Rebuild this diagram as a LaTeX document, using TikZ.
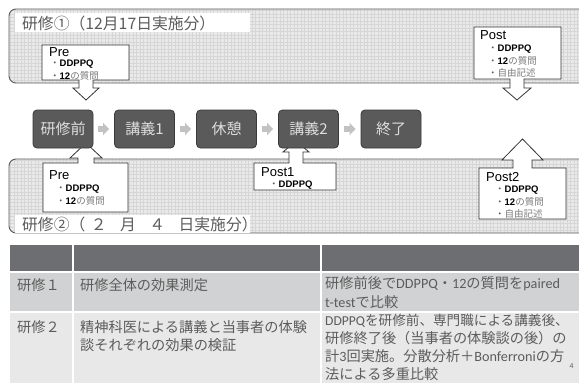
\documentclass[tikz,border=0pt]{standalone}
\usepackage{fontspec}
\setmainfont{Liberation Sans}
\newfontfamily\jp{Noto Sans CJK JP}
\newfontfamily\cfont{Carlito}
\usetikzlibrary{arrows.meta,calc}
\definecolor{panelfill}{HTML}{EAEAEA}
\definecolor{gridc}{HTML}{D6D6D6}
\definecolor{panelline}{HTML}{5A5A5A}
\definecolor{boxfill}{HTML}{5A5A5A}
\definecolor{boxline}{HTML}{3A3A3A}
\definecolor{flowtext}{HTML}{DEDEDE}
\definecolor{flowarrow}{HTML}{C2C2C2}
\definecolor{txtgray}{HTML}{5C5C5C}
\definecolor{cjkgray}{HTML}{7A7A7A}
\definecolor{calloutline}{HTML}{333333}
\definecolor{hdr}{HTML}{6D6E71}
\definecolor{rowa}{HTML}{D1D2D3}
\definecolor{rowb}{HTML}{E8E8E9}
\newcommand{\bl}{{\jp\mdseries\color{txtgray}・}}
\newcommand{\cg}[1]{{\jp\mdseries\color{cjkgray}#1}}
\newcommand{\gridpanel}[2]{%
  \begin{scope}
    \clip[rounded corners=7pt] (9,#1) rectangle (640,#2);
    \fill[panelfill] (9,#1) rectangle (640,#2);
    \foreach \gx in {10.5,14,...,579} \draw[gridline] (\gx,#1) -- (\gx,#2);
    \pgfmathsetmacro{\ga}{#1+1.5}\pgfmathsetmacro{\gb}{#1+5}
    \foreach \gy in {\ga,\gb,...,#2} \draw[gridline] (9,\gy) -- (640,\gy);
  \end{scope}
  \draw[panelborder] (9,#1) rectangle (640,#2);}
\begin{document}
\begin{tikzpicture}[x=1pt,y=-1pt,
  panelborder/.style={draw=panelline, line width=0.9pt, rounded corners=7pt},
  gridline/.style={draw=gridc, line width=0.45pt},
  titlebox/.style={fill=white},
  titletext/.style={anchor=base west, inner sep=0pt, text=txtgray, font=\jp\fontsize{15.8}{18}\selectfont},
  callout/.style={draw=calloutline, line width=0.8pt, fill=white, line join=miter},
  flowbox/.style={draw=boxline, line width=0.8pt, fill=boxfill, rounded corners=4pt, minimum width=60pt, minimum height=38pt, inner sep=0pt, text=flowtext, font=\jp\fontsize{15}{18}\selectfont},
  flowarr/.style={draw=flowarrow, line width=6pt, -{Triangle[length=6pt,width=12pt]}},
  ctitle/.style={anchor=west, inner sep=0pt, text=black, font=\fontsize{13}{15}\selectfont},
  cbul/.style={anchor=west, inner sep=0pt, text=black, font=\fontsize{9.5}{11}\selectfont\bfseries},
  ttext/.style={anchor=base west, inner sep=0pt, text=txtgray, font=\jp\fontsize{14.2}{18}\selectfont},
  ttextc/.style={anchor=base west, inner sep=0pt, text=txtgray, font=\jp\fontsize{14.2}{18}\selectfont},
  tline/.style={draw=white, line width=1.5pt}
]
\useasboundingbox (0,0) rectangle (579,383);
\fill[white] (0,0) rectangle (579,383);

% panels
\gridpanel{9}{83}
\gridpanel{159}{233}

% titles
\fill[titlebox] (15,13) rectangle (250,32);
\node[titletext] (t1) at (22,29) {研修①（12月17日実施分）};
\fill[titlebox] (15,215) rectangle (250,233);
\node[titletext] (t2) at (22,230) {研修②（\hspace{0.35em}２\hspace{0.85em}月\hspace{0.85em}４\hspace{0.85em}日実施分）};

% callouts (top)
\coordinate (tipA) at (86,100);
\draw[callout] (42,45) -- (129,45) -- (129,80) -- (93,80) -- (93,88) -- (99,88) -- (tipA) -- (73,88) -- (79,88) -- (79,80) -- (42,80) -- cycle;
\node[ctitle] (preA) at (49,52) {Pre};
\node[cbul] (preA1) at (50,64.5) {\bl DDPPQ};
\node[cbul] (preA2) at (50,75.5) {\bl 12\cg{の質問}};

\coordinate (tipB) at (517,100);
\draw[callout] (474,27) -- (561,27) -- (561,79) -- (524,79) -- (524,88) -- (531,88) -- (tipB) -- (503,88) -- (510,88) -- (510,79) -- (474,79) -- cycle;
\node[ctitle] (postB) at (480,35) {Post};
\node[cbul] (postB1) at (488,49) {\bl DDPPQ};
\node[cbul] (postB2) at (488,61) {\bl 12\cg{の質問}};
\node[cbul] (postB3) at (488,72.5) {\bl\cg{自由記述}};

% callouts (bottom)
\coordinate (tipC) at (86,143);
\draw[callout] (43,163) -- (78,163) -- (78,158) -- (70,158) -- (tipC) -- (102,158) -- (94,158) -- (94,163) -- (128,163) -- (128,212) -- (43,212) -- cycle;
\node[ctitle] (preC) at (49,175.5) {Pre};
\node[cbul] (preC1) at (56,189) {\bl DDPPQ};
\node[cbul] (preC2) at (56,200.5) {\bl 12\cg{の質問}};

\coordinate (tipD) at (296,141);
\draw[callout] (254,163) -- (289,163) -- (289,152) -- (283,152) -- (tipD) -- (309,152) -- (303,152) -- (303,163) -- (336,163) -- (336,190) -- (254,190) -- cycle;
\node[ctitle] (postD) at (261,172) {Post1};
\node[cbul] (postD1) at (269,185) {\bl DDPPQ};

\coordinate (tipE) at (522.5,139);
\draw[callout] (479,168) -- (513,168) -- (513,160) -- (502,160) -- (tipE) -- (543,160) -- (532,160) -- (532,168) -- (566,168) -- (566,219) -- (479,219) -- cycle;
\node[ctitle] (postE) at (486,177.5) {Post2};
\node[cbul] (postE1) at (495,190.5) {\bl DDPPQ};
\node[cbul] (postE2) at (495,202) {\bl 12\cg{の質問}};
\node[cbul] (postE3) at (495,213.5) {\bl\cg{自由記述}};

% flow
\node[flowbox] (f1) at (63,129) {研修前};
\node[flowbox] (f2) at (144.5,129) {講義1};
\node[flowbox] (f3) at (226.5,129) {休憩};
\node[flowbox] (f4) at (308.5,129) {講義2};
\node[flowbox] (f5) at (391,129) {終了};
\foreach \a/\b in {f1/f2,f2/f3,f3/f4,f4/f5}
  \draw[flowarr] ($(\a.east)+(5,0)$) -- ($(\b.west)+(-5,0)$);

% table
\fill[hdr] (10,245) rectangle (579,272);
\fill[rowa] (10,272) rectangle (579,312);
\fill[rowb] (10,312) rectangle (579,383);
\draw[tline] (10,272) -- (579,272);
\draw[tline] (10,312) -- (579,312);
\draw[tline] (73,245) -- (73,383);
\draw[tline] (321,245) -- (321,383);

\node[ttext] (r1c1) at (17,290.5) {研修１};
\node[ttext] (r1c2) at (80,290.5) {研修全体の効果測定};
\node[ttextc] (r1c3a) at (325,288.5) {研修前後で{\cfont DDPPQ}・{\cfont 12}の質問を{\cfont paired}};
\node[ttextc] (r1c3b) at (325,307.5) {{\cfont t-test}で比較};

\node[ttext] (r2c1) at (17,332.5) {研修２};
\node[ttext] (r2c2a) at (80,332.5) {精神科医による講義と当事者の体験};
\node[ttext] (r2c2b) at (80,350.5) {談それぞれの効果の検証};
\node[ttextc, font=\jp\fontsize{13.6}{18}\selectfont] (r2c3a) at (325,325) {{\cfont DDPPQ}を研修前、専門職による講義後、};
\node[ttextc] (r2c3b) at (325,343) {研修終了後（当事者の体験談の後）の};
\node[ttextc] (r2c3c) at (325,361) {計{\cfont 3}回実施。分散分析＋{\cfont Bonferroni}の方};
\node[ttextc] (r2c3d) at (325,379) {法による多重比較};
\node[anchor=center, inner sep=0pt, text=txtgray, font=\fontsize{7}{8}\selectfont] (pg) at (571.5,366) {4};
\end{tikzpicture}
\end{document}
